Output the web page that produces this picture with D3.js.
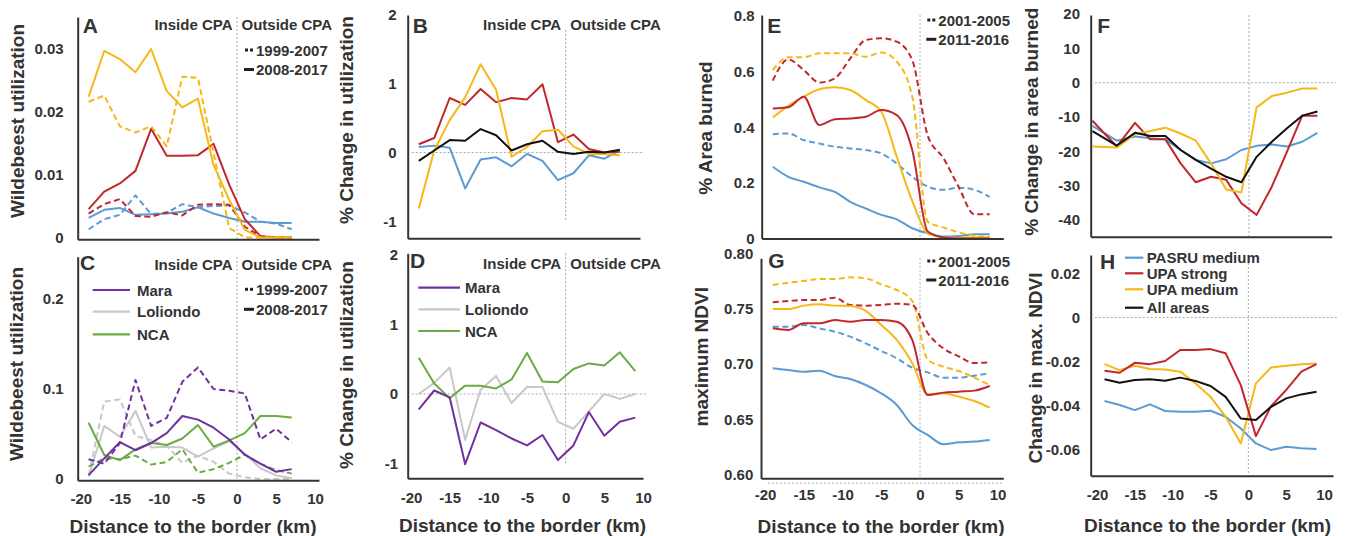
<!DOCTYPE html>
<html>
<head>
<meta charset="utf-8">
<script src="https://cdn.jsdelivr.net/npm/d3@7.9.0/dist/d3.min.js"></script>
<style>
  body { margin: 0; background: #fff; }
  svg text { fill: #333; }
  .tick text, .narrow {
    font-family: "Liberation Sans Narrow", "Arial Narrow", "Liberation Sans", sans-serif;
    font-weight: bold; font-size: 15px; fill: #333;
  }
  .title { font-family: "Liberation Sans", Arial, sans-serif; font-weight: bold; font-size: 19px; }
  .letter { font-family: "Liberation Sans", Arial, sans-serif; font-weight: bold; font-size: 21px; }
</style>
</head>
<body>
<svg id="chart" width="1347" height="536"></svg>
<script>
// distances to the border (km)
const dist14 = [-19, -17, -15, -13, -11, -9, -7, -5, -3, -1, 1, 3, 5, 7];
const dist15 = [-19, -17, -15, -13, -11, -9, -7, -5, -3, -1, 1, 3, 5, 7, 9];
const distF = [-20.6, -17.4, -15, -13, -11, -9, -7, -5, -3, -1, 1, 3, 5, 7, 9];
const xTicks = [-20, -15, -10, -5, 0, 5, 10];

// A: wildebeest utilization (dashed 1999-2007, solid 2008-2017)
const aBlueDash = [0.0013, 0.0029, 0.0036, 0.0067, 0.0037, 0.0039, 0.0053, 0.0048, 0.0050, 0.0051, 0.0040, 0.0025, 0.0022, 0.0013];
const aBlueSolid = [0.0031, 0.0044, 0.0047, 0.0036, 0.0037, 0.0038, 0.0041, 0.0048, 0.0038, 0.0031, 0.0025, 0.0025, 0.0023, 0.0023];
const aRedDash = [0.0038, 0.0053, 0.0061, 0.0034, 0.0033, 0.0040, 0.0035, 0.0052, 0.0053, 0.0052, 0.0017, 0.0002, 0, 0];
const aRedSolid = [0.0045, 0.0073, 0.0086, 0.0106, 0.0173, 0.0130, 0.0130, 0.0131, 0.0149, 0.0084, 0.0029, 0.0002, 0, 0];
const aYellowDash = [0.0216, 0.0226, 0.0177, 0.0167, 0.0177, 0.0145, 0.0256, 0.0254, 0.0134, 0.0015, 0, 0, 0, 0];
const aYellowSolid = [0.0224, 0.0297, 0.0284, 0.0263, 0.0300, 0.0233, 0.0207, 0.0221, 0.0115, 0.0060, 0.0012, 0, 0, 0];

// B: % change in utilization
const bBlue = [0.08, 0.10, 0.07, -0.52, -0.10, -0.07, -0.20, -0.02, -0.12, -0.40, -0.30, -0.04, -0.09, 0.03];
const bRed = [0.12, 0.21, 0.79, 0.69, 0.92, 0.73, 0.79, 0.77, 0.99, 0.15, 0.26, 0.05, 0, 0.01];
const bYellow = [-0.81, 0.03, 0.47, 0.80, 1.28, 0.91, -0.06, 0.08, 0.31, 0.33, 0.09, -0.02, -0.02, -0.04];
const bBlack = [-0.12, 0.03, 0.18, 0.17, 0.34, 0.25, 0.03, 0.12, 0.17, 0.01, -0.02, 0.01, 0, 0.04];

// C: utilization by region
const cMaraDash = [0.022, 0.017, 0.040, 0.110, 0.059, 0.068, 0.108, 0.124, 0.100, 0.098, 0.095, 0.044, 0.056, 0.041];
const cMaraSolid = [0.0044, 0.023, 0.041, 0.032, 0.040, 0.051, 0.070, 0.066, 0.057, 0.044, 0.027, 0.017, 0.008, 0.011];
const cLoliDash = [0.004, 0.086, 0.0885, 0.048, 0.043, 0.037, 0.018, 0.026, 0.019, 0.006, 0.002, 0, 0, 0];
const cLoliSolid = [0.003, 0.059, 0.047, 0.0756, 0.035, 0.036, 0.035, 0.0248, 0.034, 0.042, 0.028, 0.012, 0.004, 0.001];
const cNcaDash = [0.0137, 0.023, 0.022, 0.026, 0.016, 0.019, 0.033, 0.007, 0.011, 0.018, 0.027, 0.017, 0.010, 0.006];
const cNcaSolid = [0.0626, 0.0267, 0.021, 0.033, 0.040, 0.0378, 0.045, 0.060, 0.036, 0.043, 0.051, 0.070, 0.070, 0.0685];

// D: % change in utilization by region
const dMara = [-0.22, 0.05, -0.05, -1.01, -0.41, -0.52, -0.64, -0.74, -0.59, -0.95, -0.74, -0.26, -0.60, -0.40, -0.34];
const dLoli = [0, 0.16, 0.38, -0.66, 0.06, 0.26, -0.13, 0.10, 0.10, -0.40, -0.50, -0.25, 0, -0.07, 0];
const dNca = [0.52, 0.15, -0.06, 0.12, 0.12, 0.08, 0.21, 0.59, 0.18, 0.17, 0.36, 0.44, 0.41, 0.60, 0.33];

// E: % area burned (dashed 2001-2005, solid 2011-2016)
const eBlueDash = [0.375, 0.378, 0.354, 0.342, 0.330, 0.324, 0.318, 0.306, 0.270, 0.222, 0.187, 0.175, 0.183, 0.175, 0.150];
const eBlueSolid = [0.258, 0.222, 0.204, 0.184, 0.168, 0.132, 0.108, 0.085, 0.069, 0.037, 0.019, 0.007, 0.009, 0.015, 0.015];
const eRedDash = [0.568, 0.644, 0.606, 0.561, 0.576, 0.648, 0.714, 0.720, 0.708, 0.642, 0.370, 0.290, 0.185, 0.087, 0.087];
const eRedSolid = [0.468, 0.472, 0.510, 0.408, 0.429, 0.432, 0.438, 0.462, 0.444, 0.318, 0.025, 0.004, 0, 0, 0];
const eYellowDash = [0.606, 0.652, 0.652, 0.666, 0.666, 0.666, 0.654, 0.669, 0.636, 0.510, 0.060, 0.040, 0.022, 0.010, 0.006];
const eYellowSolid = [0.435, 0.477, 0.510, 0.537, 0.544, 0.534, 0.498, 0.456, 0.294, 0.135, 0.019, 0.004, 0.003, 0.004, 0.004];

// F: % change in area burned
const fBlue = [-12.6, -16.9, -15.7, -16.2, -16.5, -19.6, -22.5, -23.5, -22.3, -19.6, -18.4, -18.0, -18.6, -17.2, -14.6];
const fRed = [-11.1, -18.6, -11.7, -16.5, -16.5, -23.5, -29.0, -27.4, -28.3, -35.1, -38.5, -30.3, -20.1, -9.6, -9.6];
const fYellow = [-18.6, -18.9, -15.0, -14.1, -13.1, -14.8, -16.9, -23.5, -31.1, -32.0, -7.2, -3.9, -2.9, -1.7, -1.7];
const fBlack = [-14.1, -18.3, -14.6, -15.5, -15.5, -19.6, -22.5, -25.0, -27.4, -29.0, -21.6, -17.2, -13.3, -9.6, -8.4];

// G: maximum NDVI
const gBlueDash = [0.7338, 0.7338, 0.7353, 0.7323, 0.7293, 0.7248, 0.7188, 0.7119, 0.7053, 0.6968, 0.6926, 0.6878, 0.6878, 0.6896, 0.6917];
const gBlueSolid = [0.6962, 0.6947, 0.6932, 0.6941, 0.6893, 0.6866, 0.6812, 0.6737, 0.6632, 0.6451, 0.6361, 0.6277, 0.6295, 0.6301, 0.6316];
const gRedDash = [0.7558, 0.7570, 0.7579, 0.7579, 0.7600, 0.7534, 0.7528, 0.7534, 0.7546, 0.7534, 0.7280, 0.7143, 0.7070, 0.7010, 0.7017];
const gRedSolid = [0.7323, 0.7308, 0.7368, 0.7368, 0.7398, 0.7383, 0.7398, 0.7398, 0.7383, 0.7218, 0.6722, 0.6743, 0.6752, 0.6761, 0.6803];
const gYellowDash = [0.7714, 0.7735, 0.7750, 0.7768, 0.7768, 0.7783, 0.7774, 0.7720, 0.7669, 0.7570, 0.7040, 0.6978, 0.6938, 0.6878, 0.6812];
const gYellowSolid = [0.7498, 0.7498, 0.7528, 0.7540, 0.7528, 0.7525, 0.7480, 0.7353, 0.7218, 0.7008, 0.6728, 0.6737, 0.6707, 0.6668, 0.6608];

// H: change in max. NDVI
const hBlue = [-0.0378, -0.0396, -0.0419, -0.0393, -0.0423, -0.0427, -0.0427, -0.0422, -0.0449, -0.0502, -0.0570, -0.0600, -0.0585, -0.0592, -0.0595];
const hRed = [-0.0241, -0.0250, -0.0205, -0.0211, -0.0197, -0.0147, -0.0147, -0.0143, -0.0162, -0.0306, -0.0537, -0.0401, -0.0328, -0.0245, -0.0211];
const hYellow = [-0.0211, -0.0238, -0.0218, -0.0233, -0.0235, -0.0245, -0.0298, -0.0359, -0.0449, -0.0570, -0.0298, -0.0226, -0.0218, -0.0211, -0.0208];
const hBlack = [-0.0279, -0.0295, -0.0283, -0.0279, -0.0286, -0.0272, -0.0287, -0.0310, -0.0359, -0.0457, -0.0464, -0.0404, -0.0366, -0.0348, -0.0336];

const periodsWildebeest = ['1999-2007', '2008-2017'];
const periodsFire = ['2001-2005', '2011-2016'];
const regions = ['Mara', 'Loliondo', 'NCA'];
const areas = ['PASRU medium', 'UPA strong', 'UPA medium', 'All areas'];

const BLUE = '#5b9bd5', RED = '#c1272d', YELLOW = '#f6b817', BLACK = '#111',
      PURPLE = '#7030a0', GRAY = '#c8c8c8', GREEN = '#6aab44';

const svg = d3.select('#chart');

const panels = [
  { letter: 'A', lx: 82.7, ly: 33.3, left: 77.7, right: 319, top: 17, bottom: 239.3,
    xDomain: [-20.4, 10.5], yDomain: [-0.0003, 0.0351],
    yTicks: [0, 0.01, 0.02, 0.03], yLabels: ['0', '0.01', '0.02', '0.03'], yPad: 14,
    title: 'Wildebeest utilization', tx: 17, ty: 121,
    cpaY: 24, periods: periodsWildebeest, periodY: [50, 69.5], periodX: 245,
    series: [
      [dist14, aBlueSolid, BLUE, false], [dist14, aBlueDash, BLUE, true],
      [dist14, aRedDash, RED, true], [dist14, aRedSolid, RED, false],
      [dist14, aYellowDash, YELLOW, true], [dist14, aYellowSolid, YELLOW, false]] },
  { letter: 'B', lx: 412.7, ly: 33, left: 407.7, right: 640, top: 15, bottom: 238.3,
    xDomain: [-20.43, 9.61], yDomain: [-1.243, 1.993],
    yTicks: [2, 1, 0, -1], yLabels: ['2', '1', '0', '-1'], yPad: 11,
    title: '% Change in utilization', tx: 346.7, ty: 120,
    cpaY: 24, zero: true, borderTo: -1, borderFrom: 30,
    series: [[dist14, bBlue, BLUE, false], [dist14, bRed, RED, false],
             [dist14, bYellow, YELLOW, false], [dist14, bBlack, BLACK, false]] },
  { letter: 'C', lx: 80, ly: 270, left: 77.7, right: 319, top: 256.7, bottom: 480.3,
    xDomain: [-20.4, 10.5], yDomain: [-0.0014, 0.247],
    yTicks: [0, 0.1, 0.2], yLabels: ['0', '0.1', '0.2'], yPad: 14,
    xTicks: xTicks, xPad: 12.7, xTitle: 193, xTitleY: 526.7,
    title: 'Wildebeest utilization', tx: 16.7, ty: 364,
    cpaY: 264, periods: periodsWildebeest, periodY: [289.3, 309.3], periodX: 245,
    legend: { names: regions, colors: [PURPLE, GRAY, GREEN], x0: 92.7, x1: 130, tx: 137, ys: [290, 311.7, 334.3] },
    series: [
      [dist14, cLoliDash, GRAY, true], [dist14, cLoliSolid, GRAY, false],
      [dist14, cNcaDash, GREEN, true], [dist14, cNcaSolid, GREEN, false],
      [dist14, cMaraDash, PURPLE, true], [dist14, cMaraSolid, PURPLE, false]] },
  { letter: 'D', lx: 410, ly: 268.3, left: 407.7, right: 643, top: 253.3, bottom: 478.3,
    xDomain: [-20.43, 10.0], yDomain: [-1.213, 2.024],
    yTicks: [2, 1, 0, -1], yLabels: ['2', '1', '0', '-1'], yPad: 9.5,
    xTicks: xTicks, xPad: 13.7, xTitle: 522.5, xTitleY: 525,
    title: '% Change in utilization', tx: 346.7, ty: 365,
    cpaY: 263.3, zero: true, borderTo: -1,
    legend: { names: regions, colors: [PURPLE, GRAY, GREEN], x0: 418.3, x1: 460, tx: 465, ys: [287.7, 309.3, 331] },
    series: [[dist15, dLoli, GRAY, false], [dist15, dNca, GREEN, false], [dist15, dMara, PURPLE, false]] },
  { letter: 'E', lx: 767.3, ly: 33.3, left: 761.7, right: 1003.3, top: 15, bottom: 238.5,
    xDomain: [-20.43, 10.75], yDomain: [0, 0.804],
    yTicks: [0, 0.2, 0.4, 0.6, 0.8], yLabels: ['0', '0.2', '0.4', '0.6', '0.8'], yPad: 7,
    title: '% Area burned', tx: 705, ty: 128, smooth: true,
    periods: periodsFire, periodY: [20, 39.3], periodX: 927.3,
    series: [
      [dist15, eBlueDash, BLUE, true], [dist15, eBlueSolid, BLUE, false],
      [dist15, eRedDash, RED, true], [dist15, eYellowDash, YELLOW, true],
      [dist15, eYellowSolid, YELLOW, false], [dist15, eRedSolid, RED, false]] },
  { letter: 'F', lx: 1097.3, ly: 33, left: 1090.7, right: 1331.7, top: 15, bottom: 236.7,
    xDomain: [-20.83, 10.88], yDomain: [-44.86, 19.72],
    yTicks: [20, 10, 0, -10, -20, -30, -40], yLabels: ['20', '10', '0', '-10', '-20', '-30', '-40'], yPad: 10.7,
    title: '% Change in area burned', tx: 1031.7, ty: 121.7, zero: true,
    series: [[distF, fBlue, BLUE, false], [distF, fRed, RED, false],
             [distF, fYellow, YELLOW, false], [distF, fBlack, BLACK, false]] },
  { letter: 'G', lx: 768.3, ly: 268.3, left: 761, right: 1003.3, top: 258.3, bottom: 478.3,
    xDomain: [-20.52, 10.75], yDomain: [0.597, 0.7955],
    yTicks: [0.6, 0.65, 0.7, 0.75, 0.8], yLabels: ['0.60', '0.65', '0.70', '0.75', '0.80'], yPad: 7.7,
    xTicks: xTicks, xPad: 11.4, xTitle: 881, xTitleY: 526.7,
    title: 'maximum NDVI', tx: 701.7, ty: 356.7, smooth: true, underline: true,
    periods: periodsFire, periodY: [261, 280], periodX: 927.3,
    series: [
      [dist15, gBlueDash, BLUE, true], [dist15, gBlueSolid, BLUE, false],
      [dist15, gYellowDash, YELLOW, true], [dist15, gRedDash, RED, true],
      [dist15, gYellowSolid, YELLOW, false], [dist15, gRedSolid, RED, false]] },
  { letter: 'H', lx: 1100, ly: 269, left: 1090.7, right: 1333, top: 255, bottom: 475.7,
    xDomain: [-20.83, 11.18], yDomain: [-0.0716, 0.0283],
    yTicks: [0.02, 0, -0.02, -0.04, -0.06], yLabels: ['0.02', '0', '-0.02', '-0.04', '-0.06'], yPad: 10.7,
    xTicks: xTicks, xPad: 14, xTitle: 1207.5, xTitleY: 525,
    title: 'Change in max. NDVI', tx: 1035, ty: 368, zero: true,
    legend: { names: areas, colors: [BLUE, RED, YELLOW, BLACK], x0: 1125, x1: 1143.3, tx: 1146.7, ys: [257.7, 273.3, 289.3, 307.7] },
    series: [[dist15, hBlue, BLUE, false], [dist15, hYellow, YELLOW, false],
             [dist15, hRed, RED, false], [dist15, hBlack, BLACK, false]] }
];

function drawPanel(p) {
  const x = d3.scaleLinear().domain(p.xDomain).range([p.left, p.right]);
  const y = d3.scaleLinear().domain(p.yDomain).range([p.bottom, p.top]);
  const g = svg.append('g');

  // border of the protected area and zero line
  g.append('line')
    .attr('x1', x(0)).attr('x2', x(0))
    .attr('y1', p.borderFrom ?? p.top)
    .attr('y2', p.borderTo !== undefined ? y(p.borderTo) : p.bottom)
    .attr('stroke', '#aaa').attr('stroke-width', 1).attr('stroke-dasharray', '2,2');
  if (p.zero) {
    g.append('line')
      .attr('x1', p.left + 4).attr('x2', p.right + 4)
      .attr('y1', y(0)).attr('y2', y(0))
      .attr('stroke', '#aaa').attr('stroke-width', 1).attr('stroke-dasharray', '2,2');
  }
  if (p.underline) {
    g.append('line')
      .attr('x1', p.left + 7).attr('x2', p.right)
      .attr('y1', p.bottom + 5).attr('y2', p.bottom + 5)
      .attr('stroke', '#ccc').attr('stroke-width', 1.5).attr('stroke-dasharray', '2,2');
  }

  const line = d3.line()
    .curve(p.smooth ? d3.curveMonotoneX : d3.curveLinear);

  g.selectAll('path.series')
    .data(p.series)
    .join('path')
    .attr('class', 'series')
    .attr('d', ([xs, ys]) => line(ys.map((v, i) => [x(xs[i]), y(v)])))
    .attr('fill', 'none')
    .attr('stroke', (d) => d[2])
    .attr('stroke-width', 2)
    .attr('stroke-linejoin', 'round')
    .attr('stroke-dasharray', (d) => (d[3] ? '6,3.5' : null));

  // axes
  const yAxis = g.append('g')
    .attr('transform', `translate(${p.left},0)`)
    .call(d3.axisLeft(y).tickValues(p.yTicks).tickFormat((d, i) => p.yLabels[i])
      .tickSize(0).tickSizeOuter(0).tickPadding(p.yPad));
  const xAxis = g.append('g')
    .attr('transform', `translate(0,${p.bottom})`)
    .call(d3.axisBottom(x).tickValues(p.xTicks || []).tickFormat((d) => String(d))
      .tickSize(0).tickSizeOuter(0).tickPadding(p.xPad || 0));
  [yAxis, xAxis].forEach((a) => a.select('.domain').attr('stroke', '#333').attr('stroke-width', 2));

  // panel letter and titles
  g.append('text').attr('class', 'letter').attr('x', p.lx).attr('y', p.ly).text(p.letter);
  g.append('text').attr('class', 'title')
    .attr('transform', `translate(${p.tx},${p.ty}) rotate(-90)`)
    .attr('text-anchor', 'middle').attr('dominant-baseline', 'central')
    .text(p.title);
  if (p.xTitle) {
    g.append('text').attr('class', 'title')
      .attr('x', p.xTitle).attr('y', p.xTitleY)
      .attr('text-anchor', 'middle').attr('dominant-baseline', 'central')
      .text('Distance to the border (km)');
  }

  if (p.cpaY) {
    g.append('text').attr('class', 'narrow').attr('x', x(0) - 4.5).attr('y', p.cpaY)
      .attr('text-anchor', 'end').attr('dominant-baseline', 'central').text('Inside CPA');
    g.append('text').attr('class', 'narrow').attr('x', x(0) + 4.5).attr('y', p.cpaY)
      .attr('dominant-baseline', 'central').text('Outside CPA');
  }

  if (p.periods) {
    const px = p.periodX;
    // dotted marker
    [0, 5].forEach((dx) => g.append('rect')
      .attr('x', px + dx).attr('y', p.periodY[0] - 1.5).attr('width', 3).attr('height', 3).attr('fill', '#222'));
    g.append('rect').attr('x', px - 1).attr('y', p.periodY[1] - 1.5)
      .attr('width', 10).attr('height', 3).attr('fill', '#222');
    p.periods.forEach((t, i) => g.append('text').attr('class', 'narrow')
      .attr('x', px + 11).attr('y', p.periodY[i]).attr('dominant-baseline', 'central').text(t));
  }

  if (p.legend) {
    const L = p.legend;
    L.names.forEach((name, i) => {
      g.append('line').attr('x1', L.x0).attr('x2', L.x1).attr('y1', L.ys[i]).attr('y2', L.ys[i])
        .attr('stroke', L.colors[i]).attr('stroke-width', 2.2);
      g.append('text').attr('class', 'narrow').attr('x', L.tx).attr('y', L.ys[i])
        .attr('dominant-baseline', 'central').text(name);
    });
  }
}

panels.forEach(drawPanel);
</script>
</body>
</html>
